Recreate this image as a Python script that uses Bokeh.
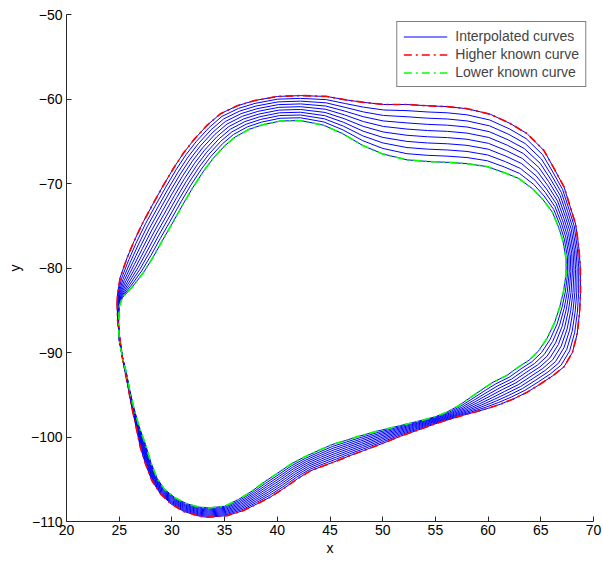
from bokeh.plotting import figure
from bokeh.models import Range1d, FixedTicker, Legend, LegendItem, ColumnDataSource
from bokeh.embed import file_html
from bokeh.resources import INLINE

# Higher known curve (red), traced clockwise from the left neck
higher_x = [24.8, 24.85, 25.1, 25.75, 26.4, 27.3, 28.3, 29.2, 30.2, 31.1, 32.1, 33.35, 34.6, 36.2,
            37.8, 40.0, 42.2, 44.7, 46.5, 48.2, 50.1, 52.3, 54.2, 56.1, 58.0, 60.2, 62.1, 63.7,
            65.3, 66.2, 67.2, 67.8, 68.3, 68.6, 68.75, 68.77, 68.67, 68.45, 68.0, 67.2, 66.2,
            65.0, 63.7, 62.4, 61.2, 59.9, 58.6, 57.4, 56.1, 54.85, 53.3, 51.7, 50.1, 48.2, 46.9,
            45.7, 44.4, 43.15, 41.9, 40.6, 39.35, 38.1, 36.8, 35.25, 33.4, 32.7, 31.1, 29.9,
            28.9, 28.1, 27.5, 27.0, 26.6, 26.2, 25.9, 25.6, 25.3, 25.05, 24.85, 24.8]
higher_y = [-84.2, -83.0, -81.1, -78.8, -76.85, -74.5, -72.2, -70.2, -68.1, -66.4, -64.8, -63.1,
            -61.75, -60.8, -60.2, -59.7, -59.6, -59.7, -60.1, -60.4, -60.65, -60.65, -60.8,
            -60.9, -61.15, -61.8, -62.9, -64.1, -66.1, -68.1, -70.4, -72.8, -74.8, -77.5, -79.9,
            -83.0, -85.4, -87.8, -90.0, -91.7, -92.7, -93.7, -94.7, -95.5, -96.1, -96.65, -97.1,
            -97.5, -98.0, -98.5, -99.2, -99.9, -100.7, -101.6, -102.2, -102.8, -103.4, -104.0,
            -104.95, -106.1, -107.1, -107.9, -108.7, -109.3, -109.5, -109.4, -108.8, -107.9,
            -106.7, -105.15, -103.2, -101.2, -98.8, -96.5, -94.5, -92.5, -90.6, -88.2, -86.2,
            -84.2]

# Lower known curve (green), same point order
lower_x = [25.0, 25.3, 26.2, 27.3, 28.2, 29.1, 30.0, 31.1, 32.0, 33.0, 33.9, 35.0, 36.0, 37.3,
           38.6, 40.3, 42.2, 44.4, 46.2, 48.1, 50.0, 52.3, 54.3, 56.2, 58.0, 59.9, 61.5, 62.9,
           64.2, 65.2, 66.1, 66.7, 67.1, 67.4, 67.4, 67.15, 66.8, 66.3, 65.6, 64.8, 63.9, 62.9,
           61.8, 60.5, 59.4, 58.3, 57.2, 56.1, 55.0, 53.8, 52.5, 51.0, 49.5, 47.8, 46.5, 45.2,
           43.9, 42.6, 41.3, 40.0, 38.8, 37.6, 36.3, 35.0, 33.5, 32.6, 31.4, 30.3, 29.3, 28.6,
           28.0, 27.5, 26.9, 26.4, 26.0, 25.7, 25.35, 25.0, 24.95, 25.0]
lower_y = [-84.6, -83.5, -82.3, -80.55, -78.75, -76.75, -74.8, -72.35, -70.45, -68.55, -67.05,
           -65.55, -64.5, -63.6, -63.05, -62.6, -62.55, -63.1, -64.1, -65.5, -66.5, -67.2, -67.4,
           -67.5, -67.65, -68.0, -68.7, -69.4, -70.6, -71.9, -73.4, -75.2, -76.8, -78.9, -80.7,
           -82.8, -84.6, -86.5, -88.3, -89.8, -90.9, -91.7, -92.7, -93.5, -94.4, -95.35, -96.3,
           -97.05, -97.6, -98.0, -98.4, -98.85, -99.3, -99.9, -100.4, -100.9, -101.6, -102.35,
           -103.2, -104.3, -105.3, -106.4, -107.4, -108.2, -108.4, -108.3, -107.9, -107.2,
           -106.2, -104.9, -103.0, -100.9, -98.8, -96.6, -94.5, -92.5, -90.8, -88.6, -86.5,
           -84.6]

# Blend weights of the interpolated curves (0 = higher curve, 1 = lower curve)
weights = [0.0, 0.111, 0.222, 0.333, 0.444, 0.556, 0.667, 0.778, 0.889, 1.0]

x_ticks = [20, 25, 30, 35, 40, 45, 50, 55, 60, 65, 70]
y_ticks = [-110, -100, -90, -80, -70, -60, -50]

blue_xs = [[(1 - w) * a + w * b for a, b in zip(higher_x, lower_x)] for w in weights]
blue_ys = [[(1 - w) * a + w * b for a, b in zip(higher_y, lower_y)] for w in weights]

FONT = "Liberation Sans"

p = figure(width=603, height=562, output_backend="svg", toolbar_location=None,
           x_range=Range1d(20, 70), y_range=Range1d(-110, -50),
           min_border_left=66, min_border_right=10, min_border_top=14, min_border_bottom=41)
p.outline_line_color = None
p.grid.visible = False
p.background_fill_color = "white"
p.border_fill_color = "white"

blue = p.multi_line(xs="xs", ys="ys", source=ColumnDataSource(dict(xs=blue_xs, ys=blue_ys)),
                    line_color="#0000ff", line_width=1)
red = p.line(higher_x, higher_y, line_color="#ff0000", line_width=1.7, line_dash="8 4 2 4")
green = p.line(lower_x, lower_y, line_color="#00ff00", line_width=1.7, line_dash="8 4 2 4")

for ax, ticks, lab in ((p.xaxis[0], x_ticks, "x"), (p.yaxis[0], y_ticks, "y")):
    ax.ticker = FixedTicker(ticks=ticks)
    ax.major_label_overrides = {t: (str(t).replace("-", "\u2212")) for t in ticks}
    ax.axis_label = lab
    ax.axis_label_text_font = FONT
    ax.axis_label_text_font_style = "normal"
    ax.axis_label_text_font_size = "14px"
    ax.major_label_text_font = FONT
    ax.major_label_text_font_size = "14px"
    ax.major_label_text_color = "black"
    ax.axis_label_text_color = "black"
    ax.axis_line_color = "#262626"
    ax.major_tick_line_color = "#262626"
    ax.major_tick_in = 5
    ax.major_tick_out = 0
    ax.minor_tick_line_color = None
p.xaxis[0].major_label_standoff = 3
p.xaxis[0].axis_label_standoff = 2
p.yaxis[0].major_label_standoff = 4
p.yaxis[0].axis_label_standoff = 5

legend = Legend(items=[LegendItem(label="Interpolated curves", renderers=[blue]),
                       LegendItem(label="Higher known curve", renderers=[red]),
                       LegendItem(label="Lower known curve", renderers=[green])],
                location="top_right", margin=7, padding=6, spacing=2,
                glyph_width=44, glyph_height=15, label_height=15, label_standoff=8,
                label_text_font=FONT, label_text_font_size="14px",
                border_line_color="black", border_line_width=1,
                background_fill_color="white", background_fill_alpha=1.0)
p.add_layout(legend)

open("out.html", "w").write(file_html(p, INLINE))
